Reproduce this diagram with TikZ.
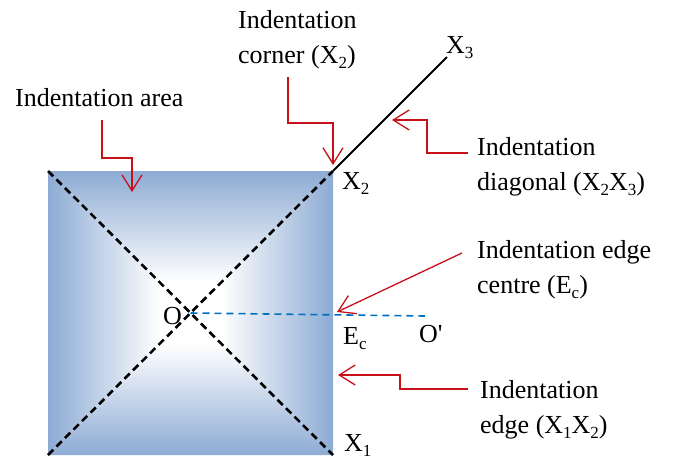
\documentclass[tikz,border=0pt]{standalone}
\usepackage{fontspec}
\setmainfont{Liberation Serif}[Ligatures=TeXOff]
\usetikzlibrary{arrows.meta}
\definecolor{fillblue}{RGB}{141,171,212}
\definecolor{arrred}{RGB}{200,16,24}
\definecolor{lineblue}{RGB}{0,112,192}
\newcommand\sbx[1]{\raisebox{-0.22em}{\fontsize{17}{17}\selectfont #1}}
\tikzset{
  lbl/.style={inner sep=0pt, anchor=base west, align=left, font=\fontsize{26}{35}\selectfont},
  ptlbl/.style={inner sep=0pt, anchor=base west, font=\fontsize{26}{30}\selectfont},
  redarrow/.style={draw=arrred, line width=1.3pt, -{Straight Barb[length=16pt,width=20pt,line width=1.3pt]}},
  diagdash/.style={draw=black, line width=2.6pt, dash pattern=on 7.5pt off 4.5pt},
}
\begin{document}
\begin{tikzpicture}[x=1pt,y=-1pt]
\useasboundingbox (0,0) rectangle (673,459);
% corners
\coordinate (TL) at (48,171);
\coordinate (TR) at (333,171);
\coordinate (BL) at (48,455);
\coordinate (BR) at (333,455);
\coordinate (O) at (190.5,313);
\coordinate (X3) at (447,57);
\coordinate (Op) at (425,316);
% gradient fill
\fill[white] (TL) rectangle (BR);
\begin{scope}
  \clip (TL) -- (TR) -- (O) -- cycle;
  \shade[top color=fillblue, bottom color=white] (48,171) rectangle (333,282);
\end{scope}
\begin{scope}
  \clip (BL) -- (BR) -- (O) -- cycle;
  \shade[bottom color=fillblue, top color=white] (48,344) rectangle (333,455);
\end{scope}
\begin{scope}
  \clip (TL) -- (BL) -- (O) -- cycle;
  \shade[left color=fillblue, right color=white] (48,171) rectangle (160,455);
\end{scope}
\begin{scope}
  \clip (TR) -- (BR) -- (O) -- cycle;
  \shade[right color=fillblue, left color=white] (221,171) rectangle (333,455);
\end{scope}
% diagonals
\draw[diagdash] (TL) -- (BR);
\draw[diagdash] (BL) -- (TR);
\draw[black, line width=2pt] (TR) -- (X3);
\draw[lineblue, line width=1.6pt, dash pattern=on 7pt off 5pt] (O) -- (Op);
% point labels
\node[ptlbl] (lO) at (163,324) {O};
\node[ptlbl] (lEc) at (343,344) {E\sbx{c}};
\node[ptlbl] (lOp) at (419,342) {O'};
\node[ptlbl] (lX1) at (344,451) {X\sbx{1}};
\node[ptlbl] (lX2) at (342,189) {X\sbx{2}};
\node[ptlbl] (lX3) at (446,53) {X\sbx{3}};
% text labels (base anchor = baseline of last line)
\node[lbl] (tarea) at (15,106) {Indentation area};
\node[lbl] (tcorner) at (238,63) {Indentation\\corner (X\sbx{2})};
\node[lbl] (tdiag) at (477,190) {Indentation\\diagonal (X\sbx{2}X\sbx{3})};
\node[lbl] (tcentre) at (477,293) {Indentation edge\\centre (E\sbx{c})};
\node[lbl] (tedge) at (480,433) {Indentation\\edge (X\sbx{1}X\sbx{2})};
% arrow ends
\coordinate (a1s) at (102,120); \coordinate (a1t) at (132,192);
\coordinate (a2s) at (288,77);  \coordinate (a2t) at (333,165);
\coordinate (a3s) at (468,153); \coordinate (a3t) at (392,120);
\coordinate (a4s) at (462,253); \coordinate (a4t) at (337,312);
\coordinate (a5s) at (468,389); \coordinate (a5t) at (338,375);
% red arrows
\draw[redarrow] (a1s) -- (102,158) -- (132,158) -- (a1t);
\draw[redarrow] (a2s) -- (288,123) -- (333,123) -- (a2t);
\draw[redarrow] (a3s) -- (427,153) -- (427,120) -- (a3t);
\draw[redarrow] (a4s) -- (a4t);
\draw[redarrow] (a5s) -- (400,389) -- (400,375) -- (a5t);
\end{tikzpicture}
\end{document}
